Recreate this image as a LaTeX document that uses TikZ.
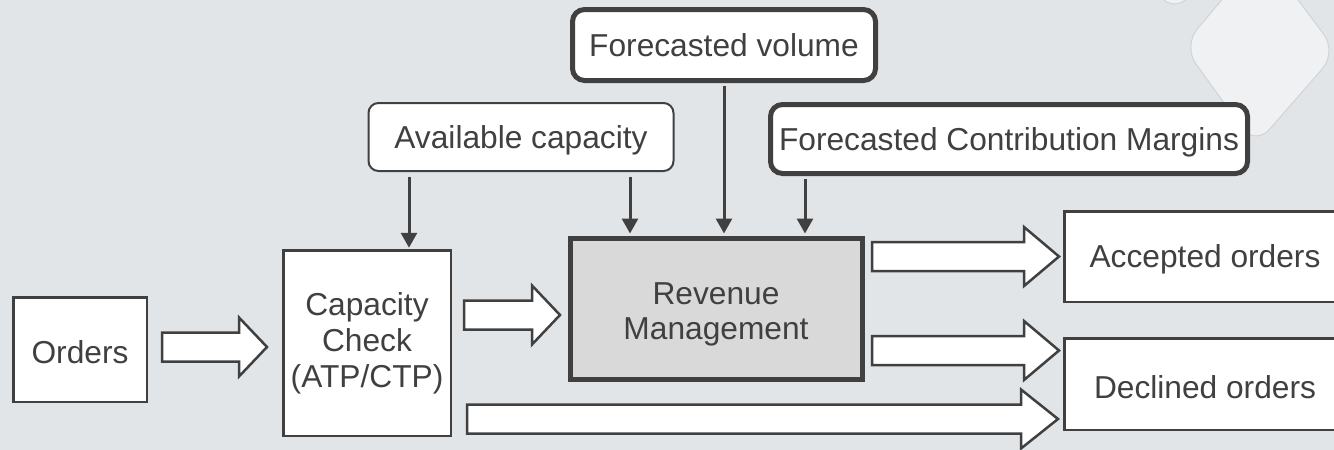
\documentclass[tikz,border=0pt]{standalone}
\usepackage{fontspec}
\setmainfont{Liberation Sans}
\usetikzlibrary{arrows.meta,calc}

\definecolor{canvas}{RGB}{225,229,232}
\definecolor{tile}{RGB}{239,241,243}
\definecolor{tileedge}{RGB}{208,212,216}
\definecolor{ink}{RGB}{64,64,64}
\definecolor{core}{RGB}{217,217,217}

\newcommand{\labelsize}{\fontsize{31.7pt}{36pt}\selectfont}

\begin{document}
\begin{tikzpicture}[x=1pt,y=-1pt,
  box/.style={draw=ink, line width=2.5pt, fill=white, text=ink, font=\labelsize,
    inner sep=0pt, align=center},
  oneline/.style={text height=22.7pt, text depth=0pt},
  lowline/.style={text height=28.5pt, text depth=0pt},
  softbox/.style={box, line width=2pt, rounded corners=10pt, oneline},
  boldbox/.style={box, line width=5pt, rounded corners=12pt, oneline},
  feed/.style={draw=ink, line width=3pt, -{Triangle[width=16pt,length=15pt]}},
  blockarrow/.style={draw=ink, fill=white, line width=2.5pt, line join=miter,
    to path={let \p1=(\tikztostart), \p2=(\tikztotarget) in
      (\x1,\y1-14.5pt) -- (\x2-#1,\y1-14.5pt) -- (\x2-#1,\y1-29.5pt) -- (\x2,\y1)
      -- (\x2-#1,\y1+29.5pt) -- (\x2-#1,\y1+14.5pt) -- (\x1,\y1+14.5pt) -- cycle}},
  blockarrow/.default=35pt]

\useasboundingbox (0,0) rectangle (1334,450);
\clip (0,0) rectangle (1334,450);
\fill[canvas] (0,0) rectangle (1334,450);

% decorative tiles in the upper right corner
\filldraw[fill=tile, draw=tileedge, line width=1pt, rounded corners=22pt]
  (1183,46) -- (1255,146) -- (1337,52) -- (1262,-48) -- cycle;
\filldraw[fill=tile, draw=tileedge, line width=1pt, rounded corners=22pt]
  (1098,-84) -- (1174,14) -- (1254,-80) -- (1177,-182) -- cycle;

% process boxes
\node[box, lowline, minimum width=133.5pt, minimum height=104.5pt] (orders) at (80,349.5) {Orders};
\node[box, minimum width=167.5pt, minimum height=185.5pt] (cap) at (367,343) {Capacity\\Check\\(ATP/CTP)};
\node[box, line width=5pt, fill=core, minimum width=292pt, minimum height=141pt,
  font=\fontsize{31.7pt}{35pt}\selectfont] (rm) at (716,309) {\rule{0pt}{33pt}Revenue\\Management};
\node[box, oneline, minimum width=281.5pt, minimum height=90.5pt] (acc) at (1205,256.5) {Accepted orders};
\node[box, lowline, minimum width=281.5pt, minimum height=91.5pt] (dec) at (1205,384) {Declined orders};

% inputs
\node[softbox, minimum width=305pt, minimum height=68pt] (avail) at (521,137) {Available capacity};
\node[boldbox, minimum width=303pt, minimum height=71pt] (volume) at (724,45) {Forecasted volume};
\node[boldbox, minimum width=477pt, minimum height=69pt] (margins) at (1009,139) {Forecasted Contribution Margins};

% input feeds
\coordinate (fa) at (409,0);
\coordinate (fb) at (630,0);
\coordinate (fc) at (724,0);
\coordinate (fd) at (805,0);
\draw[feed, shorten <=5pt, shorten >=1.25pt] (avail.south -| fa) -- (cap.north -| fa);
\draw[feed, shorten <=5pt, shorten >=2.5pt] (avail.south -| fb) -- (rm.north -| fb);
\draw[feed, shorten <=2.5pt, shorten >=2.5pt] (volume.south -| fc) -- (rm.north -| fc);
\draw[feed, shorten <=2.5pt, shorten >=2.5pt] (margins.south -| fd) -- (rm.north -| fd);

% order flow
\coordinate (a1s) at ([xshift=14pt,yshift=2.5pt]orders.east);
\coordinate (a1e) at ([xshift=-15pt]cap.west);
\draw[blockarrow=28pt] (a1s) to (a1e);
\coordinate (a2s) at ([xshift=12pt,yshift=28pt]cap.east);
\coordinate (a2e) at ([xshift=-7.5pt]rm.west);
\draw[blockarrow=28pt] (a2s) to (a2e);
\coordinate (a3s) at ([xshift=7.5pt,yshift=52.5pt]rm.east);
\coordinate (a3e) at ([xshift=-4pt]acc.west);
\draw[blockarrow=35pt] (a3s) to (a3e);
\coordinate (a4s) at ([xshift=7.5pt,yshift=-41.5pt]rm.east);
\coordinate (a4e) at ([xshift=-4pt]dec.west);
\draw[blockarrow=35pt] (a4s) to (a4e);
\coordinate (a5s) at ([xshift=15pt,yshift=-76pt]cap.east);
\coordinate (a5e) at ([xshift=-5pt]dec.west);
\draw[blockarrow=37pt] (a5s) to (a5e);
\end{tikzpicture}
\end{document}
